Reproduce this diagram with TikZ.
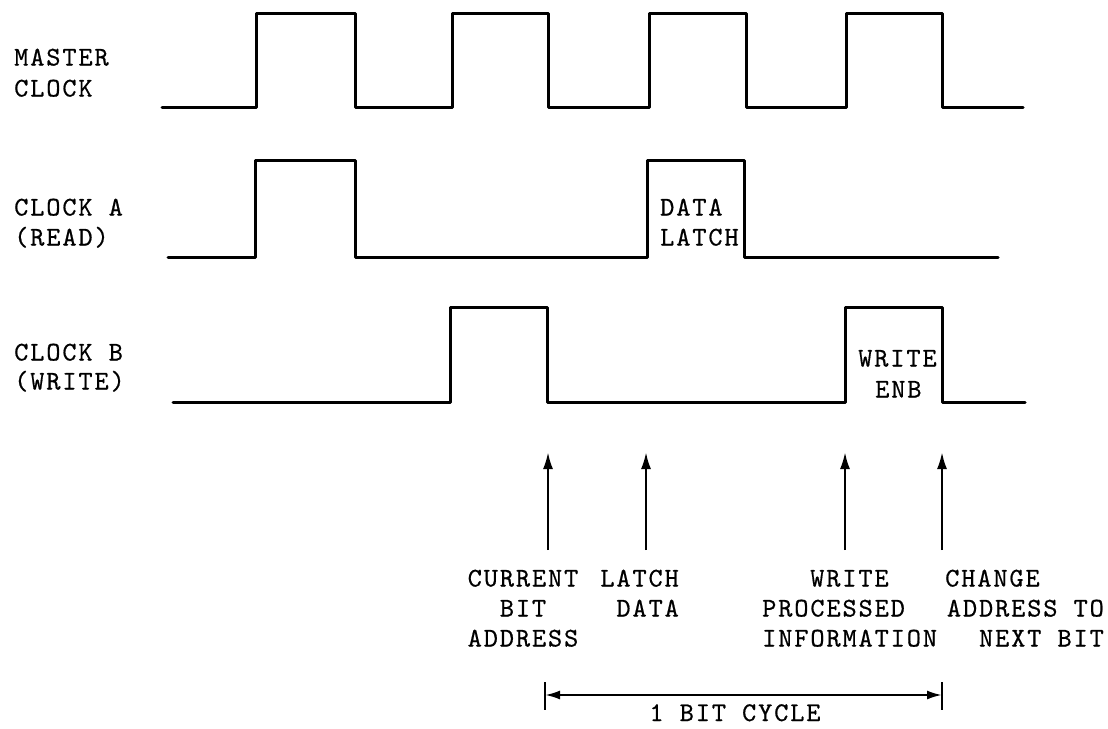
\documentclass[tikz,border=0pt]{standalone}
\usepackage{fontspec}
\newfontfamily\twfont{lmmono10-regular}[Extension=.otf, LetterSpace=7, FakeBold=0.6]
\usetikzlibrary{arrows.meta}
\tikzset{
  wave/.style={line width=3pt, line join=round, line cap=round},
  lbl/.style={font=\fontsize{27}{30}\selectfont\twfont, inner sep=0pt},
  uparrow/.style={line width=2.4pt, -{Latex[length=17pt,width=10pt]}},
  dimline/.style={line width=2.2pt, {Latex[length=15pt,width=9pt]}-{Latex[length=15pt,width=9pt]}},
  tick/.style={line width=2.4pt}
}
\begin{document}
\begin{tikzpicture}[x=1pt,y=-1pt]
\useasboundingbox[fill=white] (0,0) rectangle (1108,728);

% ---- waveforms
\draw[wave] (162,107) -- (256,107) -- (256,13) -- (355,13) -- (355,107)
  -- (452,107) -- (452,13) -- (548,13) -- (548,107)
  -- (649,107) -- (649,13) -- (746,13) -- (746,107)
  -- (846,107) -- (846,13) -- (942,13) -- (942,107) -- (1023,107);
\draw[wave] (168,257) -- (255,257) -- (255,160) -- (355,160) -- (355,257)
  -- (647,257) -- (647,160) -- (744,160) -- (744,257) -- (998,257);
\draw[wave] (173,402) -- (450,402) -- (450,307) -- (547,307) -- (547,402)
  -- (845,402) -- (845,307) -- (942,307) -- (942,402) -- (1025,402);

% ---- left labels
\node[lbl, anchor=base west] (m1) at (14,65.5) {MASTER};
\node[lbl, anchor=base west] (m2) at (14,96.5) {CLOCK};
\node[lbl, anchor=base west] (a1) at (14,215.5) {CLOCK A};
\node[lbl, anchor=base west] (a2) at (14,245.5) {(READ)};
\node[lbl, anchor=base west] (b1) at (14,360.5) {CLOCK B};
\node[lbl, anchor=base west] (b2) at (14,389.5) {(WRITE)};

% ---- pulse labels
\node[lbl, anchor=base west] (dl1) at (660,215.5) {DATA};
\node[lbl, anchor=base west] (dl2) at (660,245.5) {LATCH};
\node[lbl, anchor=base west] (we1) at (858,366.5) {WRITE};
\node[lbl, anchor=base west] (we2) at (875,397.5) {ENB};

% ---- event arrows
\coordinate (e1b) at (548,550); \coordinate (e1t) at (548,452);
\coordinate (e2b) at (646,550); \coordinate (e2t) at (646,452);
\coordinate (e3b) at (845,550); \coordinate (e3t) at (845,452);
\coordinate (e4b) at (942,550); \coordinate (e4t) at (942,452);
\draw[uparrow] (e1b) -- (e1t);
\draw[uparrow] (e2b) -- (e2t);
\draw[uparrow] (e3b) -- (e3t);
\draw[uparrow] (e4b) -- (e4t);

% ---- event labels
\node[lbl, anchor=base] (c1) at (523,586.5) {CURRENT};
\node[lbl, anchor=base] (c2) at (523,616.5) {BIT};
\node[lbl, anchor=base] (c3) at (523,646.5) {ADDRESS};
\node[lbl, anchor=base east] (l1) at (679,586.5) {LATCH};
\node[lbl, anchor=base east] (l2) at (679,616.5) {DATA};
\node[lbl, anchor=base west] (w1) at (810,586.5) {WRITE};
\node[lbl, anchor=base west] (w2) at (762,616.5) {PROCESSED};
\node[lbl, anchor=base west] (w3) at (762,646.5) {INFORMATION};
\node[lbl, anchor=base west] (n1) at (945,586.5) {CHANGE};
\node[lbl, anchor=base east] (n2) at (1104,616.5) {ADDRESS TO};
\node[lbl, anchor=base east] (n3) at (1104,646.5) {NEXT BIT};

% ---- bit cycle dimension
\coordinate (d1) at (545,695); \coordinate (d2) at (942,695);
\coordinate (d1u) at (545,682); \coordinate (d1d) at (545,710);
\coordinate (d2u) at (942,682); \coordinate (d2d) at (942,710);
\draw[dimline] (d1) -- (d2);
\draw[tick] (d1u) -- (d1d);
\draw[tick] (d2u) -- (d2d);
\node[lbl, anchor=base] (cyc) at (735,721) {1 BIT CYCLE};
\end{tikzpicture}
\end{document}
